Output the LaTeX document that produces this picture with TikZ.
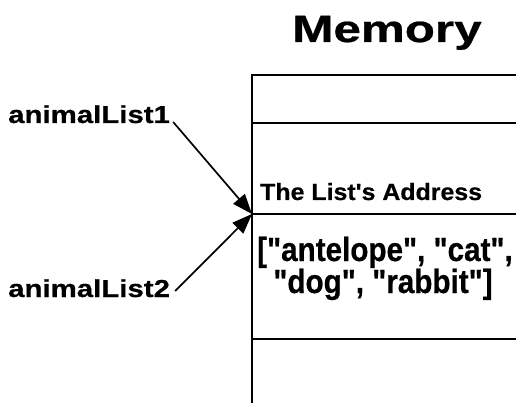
\documentclass[tikz,border=0pt]{standalone}
\usepackage{fontspec}
\setmainfont{Liberation Sans}[Ligatures=TeXOff, BoldFeatures={FakeBold=0.6}]
\usetikzlibrary{arrows.meta}
\newcommand\hsc[2]{\scalebox{#1}[1]{#2}}
\tikzset{
  lbl/.style={inner sep=0pt, anchor=base west, font=\bfseries},
  cell/.style={line width=1.5pt},
  ptr/.style={line width=1.7pt, -{Triangle[length=20pt,width=15pt]}, shorten >=0pt}
}
\begin{document}
\begin{tikzpicture}[x=1pt,y=-1pt]
\useasboundingbox (0,0) rectangle (516,403);
% memory column
\coordinate (tl) at (252,75);
\coordinate (bl) at (252,405);
\coordinate (r1) at (518,75);
\coordinate (l2) at (252,123);
\coordinate (r2) at (518,123);
\coordinate (addr) at (252,214);
\coordinate (r3) at (518,214);
\coordinate (l4) at (252,339);
\coordinate (r4) at (518,339);
\draw[cell] (bl) -- (tl) -- (r1);
\draw[cell] (l2) -- (r2);
\draw[cell] (addr) -- (r3);
\draw[cell] (l4) -- (r4);
% title
\node[inner sep=0pt, anchor=base, font=\bfseries\fontsize{38}{40}\selectfont] (mem) at (387,42) {\hsc{1.30}{Memory}};
% cell texts
\node[lbl, font=\bfseries\fontsize{23.5}{26}\selectfont] (addrtxt) at (260,200) {\hsc{1.06}{The List's Address}};
\node[inner sep=0pt, anchor=base, font=\bfseries\fontsize{33.5}{36}\selectfont] (list1) at (385,261) {\hsc{0.885}{["antelope", "cat",}};
\node[inner sep=0pt, anchor=base, font=\bfseries\fontsize{33.5}{36}\selectfont] (list2) at (383,293) {\hsc{0.885}{"dog", "rabbit"]}};
% variables
\node[lbl, font=\bfseries\fontsize{24.5}{27}\selectfont] (v1) at (8,123) {\hsc{1.2}{animalList1}};
\node[lbl, font=\bfseries\fontsize{24.5}{27}\selectfont] (v2) at (8,297) {\hsc{1.2}{animalList2}};
% pointers
\draw[ptr] ([xshift=3pt,yshift=1pt]v1.base east) -- (addr);
\draw[ptr] ([xshift=5pt,yshift=6pt]v2.base east) -- (addr);
\end{tikzpicture}
\end{document}
